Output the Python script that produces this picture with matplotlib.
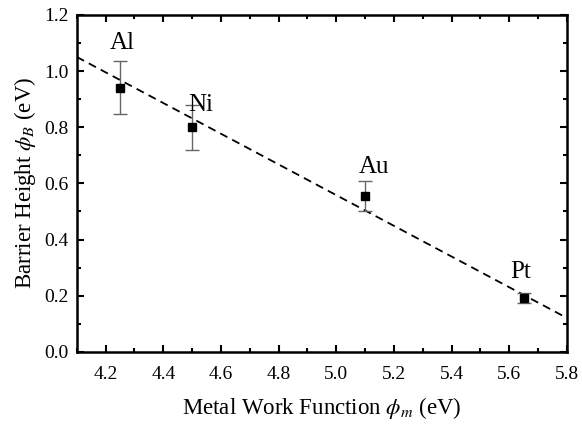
import numpy as np
import matplotlib
matplotlib.use("Agg")
import matplotlib.pyplot as plt
from matplotlib.ticker import MultipleLocator

plt.rcParams['font.family'] = ['Liberation Serif', 'DejaVu Serif']
plt.rcParams['mathtext.fontset'] = 'stix'

# barrier height vs metal work function
metals = ['Al', 'Ni', 'Au', 'Pt']
work_fn = [4.25, 4.50, 5.10, 5.65]
barrier = [0.94, 0.80, 0.555, 0.193]
barrier_err = [0.094, 0.08, 0.055, 0.018]

# linear fit shown as dashed line
fit_x = [4.1, 5.8]
fit_y = [1.05, 0.121]

# where each metal name sits (data coords)
label_xy = [(4.257, 1.10), (4.53, 0.879), (5.13, 0.658), (5.64, 0.285)]

fig = plt.figure(figsize=(5.82, 4.24), dpi=100)
ax = fig.add_axes([0.132, 0.170, 0.842, 0.795])

ax.plot(fit_x, fit_y, '--', color='black', lw=1.3, dashes=(4.5, 3))
ax.errorbar(work_fn, barrier, yerr=barrier_err, fmt='s', color='black',
            ms=5.5, ecolor='#666666', elinewidth=1, capsize=5, capthick=1)

for m, (lx, ly) in zip(metals, label_xy):
    ax.text(lx, ly, m, ha='center', va='center', fontsize=18)

ax.set_xlim(4.1, 5.8)
ax.set_ylim(0, 1.2)
ax.xaxis.set_minor_locator(MultipleLocator(0.1))
ax.yaxis.set_major_locator(MultipleLocator(0.2))
ax.yaxis.set_minor_locator(MultipleLocator(0.1))
xt = np.arange(4.2, 5.81, 0.2)
ax.set_xticks(xt)
ax.set_xticklabels(['%.1f' % v for v in xt])
ax.tick_params(which='both', direction='in', top=True, right=True, labelsize=14, width=1.5)
ax.tick_params(which='major', length=5, pad=6)
ax.tick_params(axis='x', which='major', pad=10)
ax.tick_params(which='minor', length=3)
for s in ax.spines.values():
    s.set_linewidth(1.8)

ax.set_xlabel(r'Metal Work Function $\phi_m$ (eV)', fontsize=16.5, labelpad=9)
ax.set_ylabel(r'Barrier Height $\phi_B$ (eV)', fontsize=16.5, labelpad=4)

fig.savefig('out.png', dpi=100)
